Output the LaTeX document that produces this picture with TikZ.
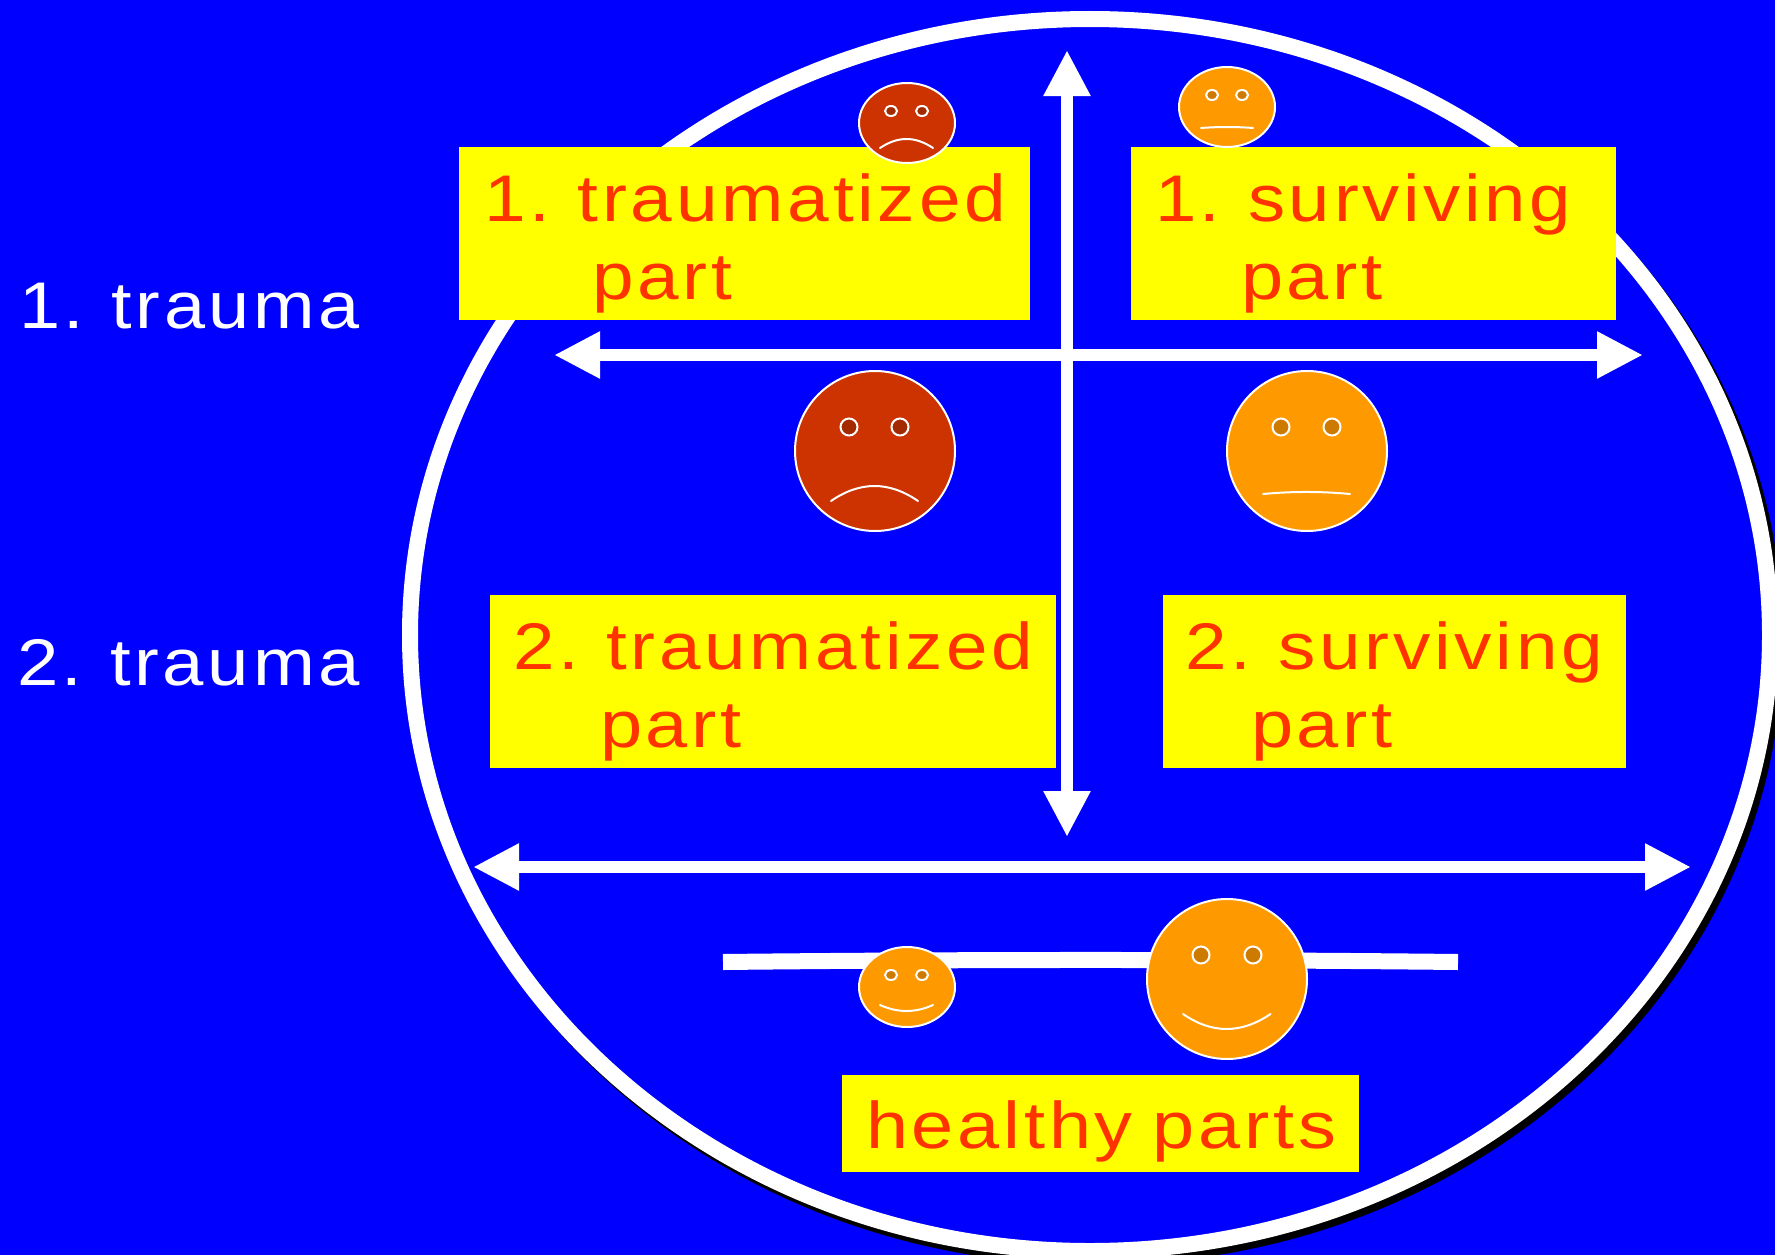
\documentclass[tikz,border=0pt]{standalone}
\usepackage{fontspec}
\usepackage{graphicx}
\setmainfont{Liberation Sans}[LetterSpace=5]
\usetikzlibrary{arrows.meta,shapes.geometric}
\definecolor{bg}{HTML}{0000FF}
\definecolor{lab}{HTML}{FF3300}
\definecolor{yel}{HTML}{FFFF00}
\definecolor{sadc}{HTML}{CC3300}
\definecolor{orc}{HTML}{FF9900}
\definecolor{sadeye}{HTML}{A32900}
\definecolor{oreye}{HTML}{CC7A00}
\newcommand{\fitw}[2]{\resizebox{#1pt}{\height}{\spaceskip=.26em\relax #2}}
\tikzset{
  x=1pt,y=-1pt,
  ybox/.style={fill=yel,anchor=north west,inner sep=0pt,outer sep=0pt},
  lbl/.style={text=lab,anchor=base west,inner sep=0pt,outer sep=0pt,font=\fontsize{66}{70}\selectfont},
  wlbl/.style={text=white,anchor=base west,inner sep=0pt,outer sep=0pt,font=\fontsize{66}{70}\selectfont},
  face/.style={ellipse,draw=white,line width=2pt,inner sep=0pt,outer sep=0pt},
  smallf/.style={face,minimum width=96pt,minimum height=80pt},
  bigf/.style={face,minimum width=160pt,minimum height=160pt},
  eyeS/.style={ellipse,draw=white,line width=2pt,inner sep=0pt,minimum width=12pt,minimum height=10pt},
  eyeB/.style={ellipse,draw=white,line width=2pt,inner sep=0pt,minimum width=17pt,minimum height=17pt},
  mouth/.style={draw=white,line width=2pt,line cap=round},
  dbl/.style={draw=white,line width=12pt,{Triangle[width=44pt,length=46pt]}-{Triangle[width=44pt,length=46pt]}},
}
\begin{document}
\begin{tikzpicture}
\useasboundingbox (0,0) rectangle (1775,1255);
\clip (0,0) rectangle (1775,1255);
\fill[bg] (0,0) rectangle (1775,1255);
% big circle with shadow
\fill[black] (1095,641) ellipse [x radius=688,y radius=624];
\draw[white,line width=16pt,fill=bg] (1090,635) ellipse [x radius=680,y radius=616];
% yellow boxes
\node[ybox,minimum width=571pt,minimum height=173pt] (r1) at (459,147) {};
\node[ybox,minimum width=485pt,minimum height=173pt] (r2) at (1131,147) {};
\node[ybox,minimum width=566pt,minimum height=173pt] (r3) at (490,595) {};
\node[ybox,minimum width=463pt,minimum height=173pt] (r4) at (1163,595) {};
\node[ybox,minimum width=517pt,minimum height=97pt] (r5) at (842,1075) {};
% labels
\node[wlbl] (t1) at (19,328) {\fitw{341}{1. trauma}};
\node[wlbl] (t2) at (17,685) {\fitw{343}{2. trauma}};
\node[lbl] (a1) at (484,221) {\fitw{522}{1. traumatized}};
\node[lbl] (a2) at (592,299) {\fitw{140}{part}};
\node[lbl] (b1) at (1155,221) {\fitw{416}{1. surviving}};
\node[lbl] (b2) at (1241,299) {\fitw{142}{part}};
\node[lbl] (c1) at (513,669) {\fitw{520}{2. traumatized}};
\node[lbl] (c2) at (600,747) {\fitw{142}{part}};
\node[lbl] (d1) at (1185,669) {\fitw{418}{2. surviving}};
\node[lbl] (d2) at (1251,747) {\fitw{142}{part}};
\node[lbl] (h1) at (866,1148) {\fitw{470}{healthy parts}};
% arrows
\coordinate (vt) at (1067,50);
\coordinate (vb) at (1067,837);
\coordinate (h1l) at (554,355);
\coordinate (h1r) at (1643,355);
\coordinate (h2l) at (473,867);
\coordinate (h2r) at (1691,867);
\draw[dbl] (vt) -- (vb);
\draw[dbl] (h1l) -- (h1r);
\draw[dbl] (h2l) -- (h2r);
% healthy line
\coordinate (ll) at (723,962);
\coordinate (lr) at (1458,962);
\draw[white,line width=16pt] (ll) .. controls (968,959.3) and (1213,959.3) .. (lr);
% small sad face
\node[smallf,fill=sadc] (fa) at (907,123) {};
\node[eyeS,fill=sadeye] (fa1) at (891,111) {};
\node[eyeS,fill=sadeye] (fa2) at (922,111) {};
\draw[mouth] (880,148) .. controls (898,136) and (915,136) .. (933,148);
% small neutral face
\node[smallf,fill=orc] (fb) at (1227,107) {};
\node[eyeS,fill=oreye] (fb1) at (1212,95) {};
\node[eyeS,fill=oreye] (fb2) at (1242,95) {};
\draw[mouth] (1201,128) .. controls (1218,126.7) and (1236,126.7) .. (1253,128);
% small smile face
\node[smallf,fill=orc] (fc) at (907,987) {};
\node[eyeS,fill=oreye] (fc1) at (891,975) {};
\node[eyeS,fill=oreye] (fc2) at (922,975) {};
\draw[mouth] (880,1005) .. controls (898,1013) and (915,1013) .. (933,1005);
% big sad face
\node[bigf,fill=sadc] (fd) at (875,451) {};
\node[eyeB,fill=sadeye] (fd1) at (849,427) {};
\node[eyeB,fill=sadeye] (fd2) at (900,427) {};
\draw[mouth] (831,501) .. controls (860,481) and (889,481) .. (918,501);
% big neutral face
\node[bigf,fill=orc] (fe) at (1307,451) {};
\node[eyeB,fill=oreye] (fe1) at (1281,427) {};
\node[eyeB,fill=oreye] (fe2) at (1332,427) {};
\draw[mouth] (1263,494) .. controls (1292,491.3) and (1321,491.3) .. (1350,494);
% big smile face
\node[bigf,fill=orc] (ff) at (1227,979) {};
\node[eyeB,fill=oreye] (ff1) at (1201,955) {};
\node[eyeB,fill=oreye] (ff2) at (1253,955) {};
\draw[mouth] (1183,1014) .. controls (1212,1034) and (1241,1034) .. (1270.5,1014);
\end{tikzpicture}
\end{document}
